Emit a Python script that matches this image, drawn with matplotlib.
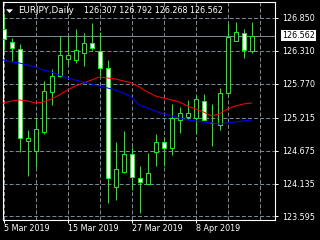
import matplotlib
matplotlib.use("Agg")
import matplotlib.pyplot as plt
import numpy as np
from matplotlib.patches import Polygon

# daily EURJPY candles, 5 Mar 2019 .. 17 Apr 2019
opens = [126.670, 126.456, 126.342, 124.833, 124.669, 124.980, 125.636, 125.899,
         126.178, 126.161, 126.276, 126.440, 126.309, 126.030, 124.078, 124.324,
         124.620, 124.226, 124.128, 124.652, 124.816, 124.718, 125.177, 125.226,
         125.210, 125.489, 125.130, 125.095, 125.620, 126.473, 126.604, 126.307]
highs = [126.932, 126.522, 126.424, 125.013, 125.226, 125.817, 126.014, 126.555,
         126.555, 126.670, 126.604, 126.768, 126.620, 126.161, 124.816, 124.997,
         124.734, 124.423, 124.636, 124.948, 124.882, 125.440, 125.390, 125.505,
         125.587, 125.604, 125.440, 125.702, 126.752, 126.784, 126.670, 126.792]
lows = [126.325, 126.145, 124.652, 124.259, 124.406, 124.948, 125.423, 125.882,
        126.079, 126.112, 126.063, 126.325, 125.882, 123.816, 123.865, 124.308,
        124.029, 123.652, 124.128, 124.423, 124.423, 124.603, 124.964, 125.194,
        124.964, 125.177, 124.751, 125.013, 125.604, 126.473, 126.194, 126.268]
closes = [126.506, 126.358, 124.882, 124.882, 125.030, 125.653, 125.899, 126.243,
          126.243, 126.325, 126.440, 126.358, 126.030, 124.226, 124.374, 124.620,
          124.242, 124.160, 124.308, 124.816, 124.718, 125.210, 125.292, 125.292,
          125.522, 125.177, 125.125, 125.620, 126.538, 126.620, 126.325, 126.562]

ma_red = [125.456, 125.489, 125.505, 125.489, 125.456, 125.472, 125.522, 125.587,
          125.669, 125.735, 125.784, 125.833, 125.882, 125.866, 125.850, 125.817,
          125.784, 125.718, 125.636, 125.571, 125.538, 125.505, 125.472, 125.407,
          125.358, 125.308, 125.243, 125.276, 125.358, 125.407, 125.440, 125.456]
ma_blue = [126.161, 126.128, 126.112, 126.079, 126.046, 125.997, 125.964, 125.915,
           125.866, 125.833, 125.800, 125.768, 125.735, 125.702, 125.669, 125.620,
           125.554, 125.423, 125.374, 125.325, 125.276, 125.243, 125.210, 125.177,
           125.161, 125.144, 125.128, 125.112, 125.128, 125.144, 125.161, 125.177]

price_ticks = [123.595, 124.135, 124.675, 125.215, 125.770, 126.310, 126.850]
date_pos = [0, 8, 16, 24]
date_labels = ["5 Mar 2019", "15 Mar 2019", "27 Mar 2019", "8 Apr 2019"]
last_price = 126.562
title_text = "EURJPY,Daily"
ohlc_text = "126.307 126.792 126.268 126.562"

W, H = 320, 240
GRID = "#778899"
GREEN = "#00ff00"
FS = 5.8

plt.rcParams["font.family"] = ["DejaVu Sans"]
plt.rcParams["lines.scale_dashes"] = False

fig = plt.figure(figsize=(W / 100, H / 100), dpi=100, facecolor="black")
ax = fig.add_axes([2.5 / W, 1 - 219.5 / H, 272 / W, 217.5 / H], facecolor="black")

x = np.arange(len(opens))
o = np.array(opens)
c = np.array(closes)

ax.set_xlim(-0.125, 33.875)
ax.set_ylim(123.545, 127.112)

# grid
for p in price_ticks:
    ax.axhline(p, color=GRID, lw=0.72, dashes=(2.9, 1.5), zorder=1)
for i in range(0, 33, 4):
    ax.axvline(i, color=GRID, lw=0.72, dashes=(2.9, 1.5), zorder=1)

# current price line
ax.axhline(last_price, color=GRID, lw=0.72, zorder=1.5)

# candles
ax.vlines(x, lows, highs, color=GREEN, lw=0.72, zorder=2)
bull = c >= o
ax.bar(x, np.abs(c - o), bottom=np.minimum(o, c), width=0.5,
       color=np.where(bull, "black", "white"), edgecolor=GREEN, linewidth=0.72, zorder=3)

# moving averages
ax.plot(x, ma_red, color="#ff0000", lw=0.75, zorder=4)
ax.plot(x, ma_blue, color="#0000ff", lw=0.75, zorder=4)

# axes styling
for s in ax.spines.values():
    s.set_color("white")
    s.set_linewidth(0.8)

ax.yaxis.tick_right()
ax.set_yticks(price_ticks)
ax.set_yticklabels([f"{p:.3f}" for p in price_ticks])
ax.tick_params(axis="y", colors="white", length=2.5, width=0.72, pad=3, labelsize=FS)

ax.set_xticks(date_pos)
ax.set_xticklabels(date_labels, ha="left")
ax.tick_params(axis="x", colors="white", length=2.2, width=0.72, pad=1.2, labelsize=FS)

# last price tag
ax.annotate(f"{last_price:.3f}", xy=(1.0, last_price), xycoords=("axes fraction", "data"),
            xytext=(5.5, 0), textcoords="offset points", ha="left", va="center",
            fontsize=FS, color="black",
            bbox=dict(boxstyle="square,pad=0.15", fc="white", ec="white", lw=0))

# header
tri = Polygon([[6 / W, 1 - 9.3 / H], [13 / W, 1 - 9.3 / H], [9.5 / W, 1 - 13 / H]],
              closed=True, transform=fig.transFigure, fc="white", ec="none")
fig.patches.append(tri)
fig.text(18 / W, 1 - 10.5 / H, title_text, color="white", fontsize=6.3, va="center")
fig.text(84 / W, 1 - 10.5 / H, ohlc_text, color="white", fontsize=FS, va="center")

fig.savefig("out.png", dpi=100, facecolor="black")
